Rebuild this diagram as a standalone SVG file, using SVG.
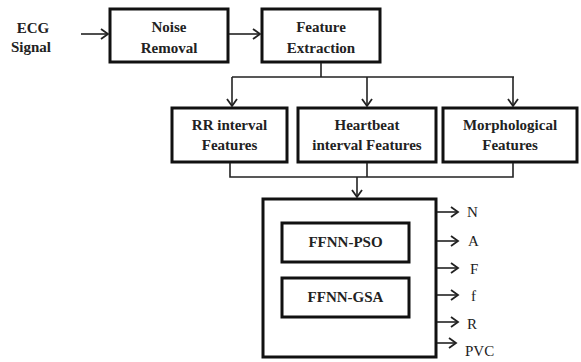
<svg xmlns="http://www.w3.org/2000/svg" width="581" height="362" viewBox="0 0 581 362">
<style>
.box{fill:#fff;stroke:#111;stroke-width:3}
.t{font-family:"Liberation Serif","Times New Roman",serif;font-weight:bold;font-size:15px;fill:#222;text-anchor:middle}
.o{font-family:"Liberation Serif","Times New Roman",serif;font-size:15px;fill:#222}
.c{fill:none;stroke:#222;stroke-width:1.6}
</style>
<defs>
<marker id="ah" markerUnits="userSpaceOnUse" markerWidth="12" markerHeight="14" refX="9" refY="6" orient="auto" viewBox="0 0 12 12">
<path d="M2,1 L9,6 L2,11" fill="none" stroke="#222" stroke-width="1.8"/>
</marker>
</defs>
<rect width="581" height="362" fill="#fff"/>
<g id="ecg"><text class="t" x="33" y="33">ECG</text><text class="t" x="31" y="52">Signal</text></g>
<g id="noise"><rect class="box" x="110" y="9" width="118" height="53"/><text class="t" x="169" y="32">Noise</text><text class="t" x="169" y="53">Removal</text></g>
<g id="feature"><rect class="box" x="262" y="9" width="118" height="53"/><text class="t" x="321" y="32">Feature</text><text class="t" x="321" y="53">Extraction</text></g>
<g id="rr"><rect class="box" x="172" y="108" width="115" height="54"/><text class="t" x="229.5" y="130">RR interval</text><text class="t" x="229.5" y="150">Features</text></g>
<g id="hb"><rect class="box" x="298" y="108" width="138" height="54"/><text class="t" x="367" y="130">Heartbeat</text><text class="t" x="367" y="150">interval Features</text></g>
<g id="morph"><rect class="box" x="443" y="108" width="134" height="54"/><text class="t" x="510" y="130">Morphological</text><text class="t" x="510" y="150">Features</text></g>
<g id="classifier"><rect class="box" x="263" y="199" width="173" height="158"/></g>
<g id="pso"><rect class="box" x="282" y="223" width="127" height="39"/><text class="t" x="345.5" y="247">FFNN-PSO</text></g>
<g id="gsa"><rect class="box" x="282" y="278" width="127" height="39"/><text class="t" x="345.5" y="302">FFNN-GSA</text></g>
<g id="outputs">
<text class="o" x="467" y="217">N</text>
<text class="o" x="468" y="246">A</text>
<text class="o" x="470" y="274">F</text>
<text class="o" x="471" y="301">f</text>
<text class="o" x="467" y="329">R</text>
<text class="o" x="465" y="356">PVC</text>
</g>
<g id="connectors">
<line class="c" x1="81" y1="34" x2="108" y2="34" marker-end="url(#ah)"/>
<line class="c" x1="229" y1="34" x2="260" y2="34" marker-end="url(#ah)"/>
<path class="c" d="M321,63 V77 M232,77 H514"/>
<line class="c" x1="232" y1="77" x2="232" y2="106" marker-end="url(#ah)"/>
<line class="c" x1="367" y1="77" x2="367" y2="106" marker-end="url(#ah)"/>
<line class="c" x1="513" y1="77" x2="513" y2="106" marker-end="url(#ah)"/>
<path class="c" d="M230,163 V177 H513 V163 M367,163 V177"/>
<line class="c" x1="357" y1="177" x2="357" y2="197" marker-end="url(#ah)"/>
<line class="c" x1="437" y1="212" x2="458" y2="212" marker-end="url(#ah)"/>
<line class="c" x1="437" y1="241" x2="458" y2="241" marker-end="url(#ah)"/>
<line class="c" x1="437" y1="268" x2="458" y2="268" marker-end="url(#ah)"/>
<line class="c" x1="437" y1="295" x2="458" y2="295" marker-end="url(#ah)"/>
<line class="c" x1="437" y1="322" x2="458" y2="322" marker-end="url(#ah)"/>
<line class="c" x1="437" y1="343" x2="456" y2="343" marker-end="url(#ah)"/>
</g>
</svg>
